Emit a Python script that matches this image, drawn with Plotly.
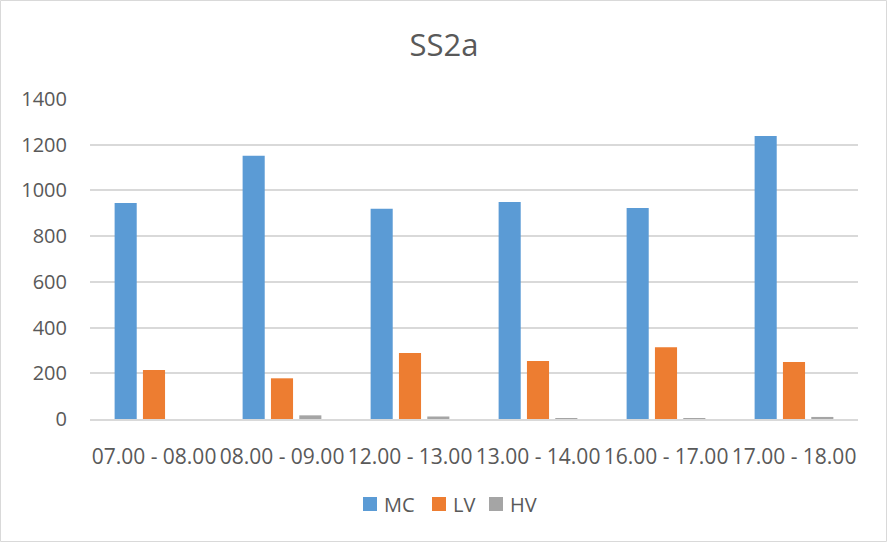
import plotly.graph_objects as go

categories = ["07.00 - 08.00", "08.00 - 09.00", "12.00 - 13.00", "13.00 - 14.00", "16.00 - 17.00", "17.00 - 18.00"]
mc_values = [945, 1152, 920, 949, 923, 1238]
lv_values = [214, 178, 289, 254, 314, 249]
hv_values = [0, 16, 11, 4, 3, 9]
y_ticks = [0, 200, 400, 600, 800, 1000, 1200, 1400]
series_names = ["MC", "LV", "HV"]
series_colors = ["#5B9BD5", "#ED7D31", "#A5A5A5"]

FONT = "Open Sans"
TXT = "#595959"

fig = go.Figure()
for name, vals, col in zip(series_names, [mc_values, lv_values, hv_values], series_colors):
    fig.add_trace(go.Bar(name=name, x=categories, y=vals, marker=dict(color=col, line=dict(width=0))))

L, R, T, B = 90, 30, 99, 124
W, H = 888, 543
pw, ph = W - L - R, H - T - B


def px_x(px):
    return (px - L) / pw


def px_y(py):
    return (419 - py) / ph


shapes = [dict(type="rect", xref="paper", yref="paper",
               x0=px_x(0.5), x1=px_x(W - 1.5), y0=px_y(H - 1.5), y1=px_y(0.5),
               line=dict(color="#D9D9D9", width=1), fillcolor="rgba(0,0,0,0)", layer="below")]
annotations = []
# custom legend (Excel style: small squares, tight spacing)
legend_sq_x = [363, 432, 489]
for name, col, sx in zip(series_names, series_colors, legend_sq_x):
    shapes.append(dict(type="rect", xref="paper", yref="paper",
                       x0=px_x(sx), x1=px_x(sx + 14), y0=px_y(511), y1=px_y(497),
                       line=dict(width=0), fillcolor=col))
    annotations.append(dict(text=name, xref="paper", yref="paper", x=px_x(sx + 19), y=px_y(504),
                            xanchor="left", yanchor="middle", showarrow=False,
                            font=dict(family=FONT, size=20, color=TXT)))

fig.update_layout(
    width=W, height=H,
    margin=dict(l=L, r=R, t=T, b=B, pad=0),
    paper_bgcolor="white", plot_bgcolor="white",
    barmode="group", bargap=0.336, bargroupgap=0.22,
    font=dict(family=FONT, color=TXT, size=20),
    title=dict(text="SS2a", x=0.5, xanchor="center", y=1 - 45 / H, yanchor="middle",
               font=dict(family=FONT, size=31, color=TXT)),
    showlegend=False,
    xaxis=dict(showgrid=False, showline=True, linecolor="#D9D9D9", linewidth=1.5,
               tickangle=0, ticks="", ticklabelstandoff=18,
               tickfont=dict(family=FONT, size=21, color=TXT)),
    yaxis=dict(range=[0, 1400], tickvals=y_ticks, showgrid=True, gridcolor="#D9D9D9", gridwidth=1.5,
               zeroline=False, showline=False, ticks="", ticklabelstandoff=22,
               tickfont=dict(family=FONT, size=20, color=TXT)),
    shapes=shapes,
    annotations=annotations,
)

fig.write_html("out.html", config={"displayModeBar": False},
               post_script="document.body.style.margin='0';document.body.style.overflow='hidden';")
